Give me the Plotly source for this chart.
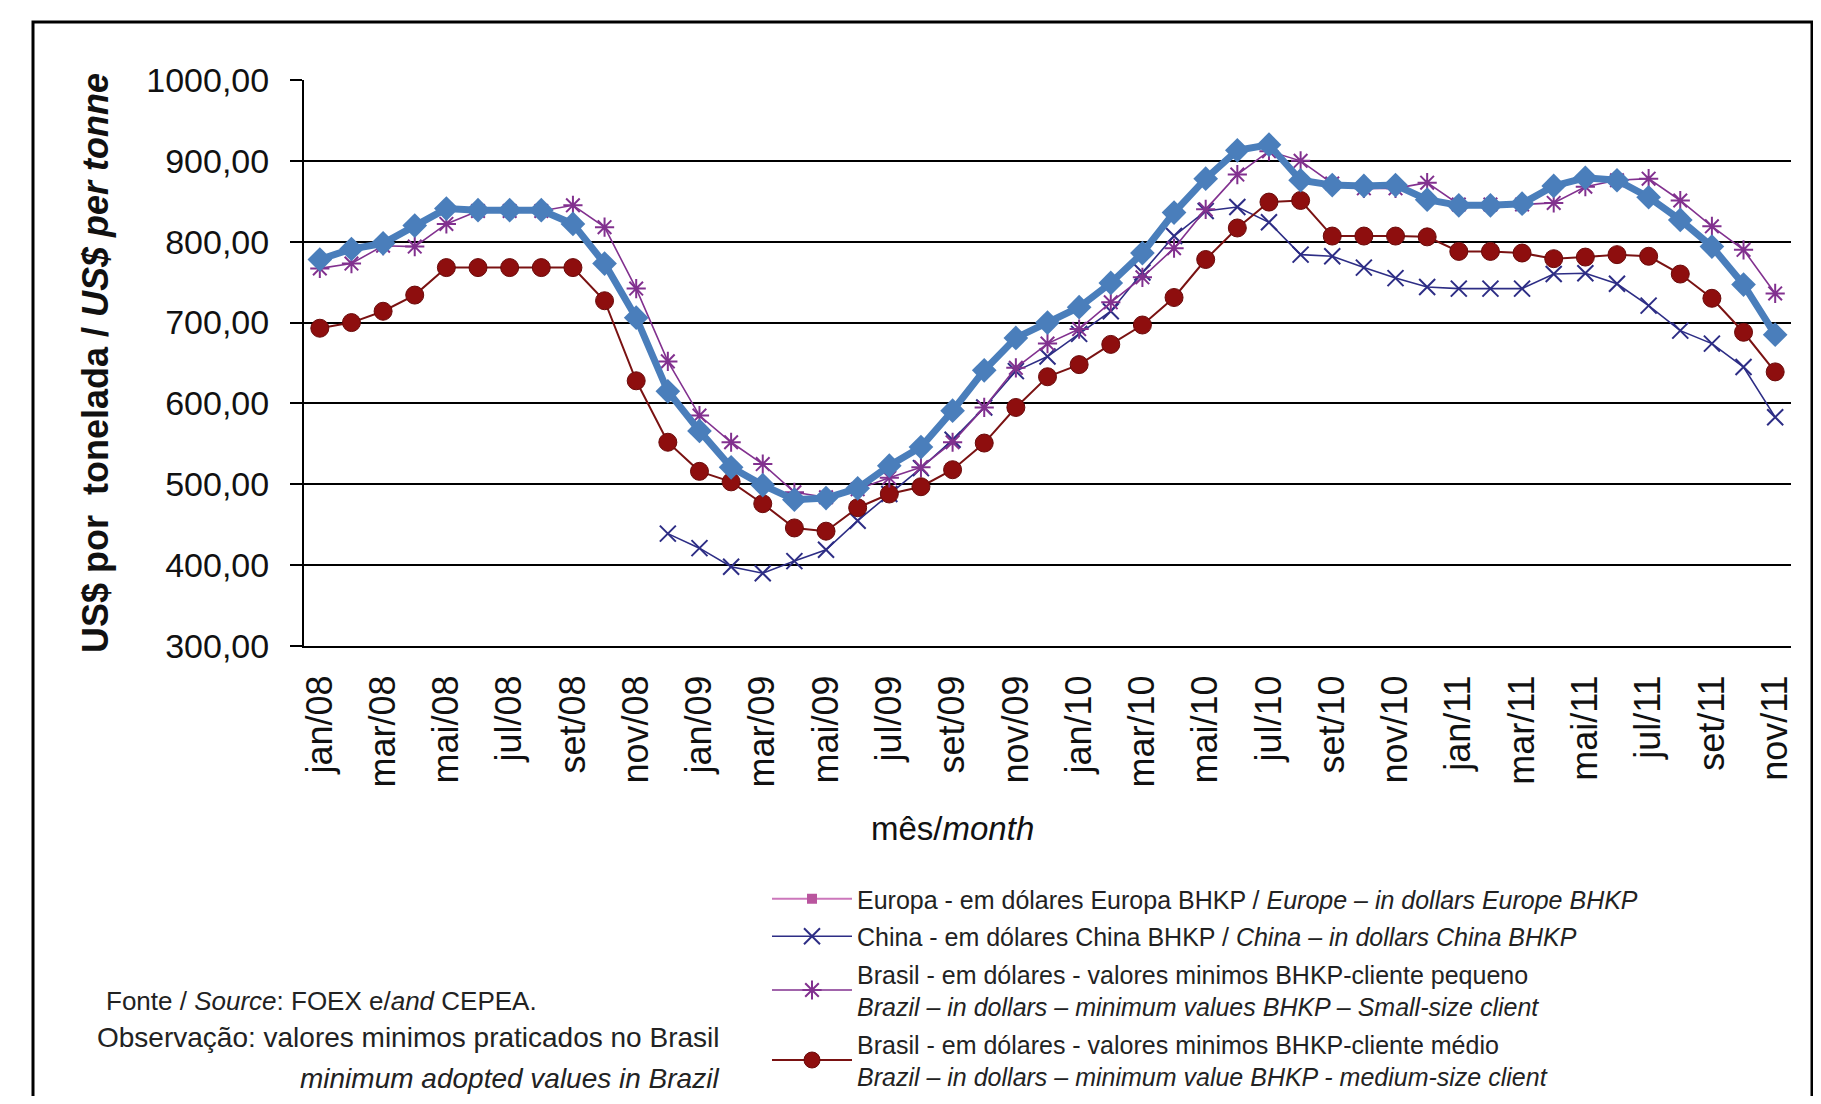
import plotly.graph_objects as go

months = ["jan/08","fev/08","mar/08","abr/08","mai/08","jun/08","jul/08","ago/08","set/08","out/08","nov/08","dez/08",
          "jan/09","fev/09","mar/09","abr/09","mai/09","jun/09","jul/09","ago/09","set/09","out/09","nov/09","dez/09",
          "jan/10","fev/10","mar/10","abr/10","mai/10","jun/10","jul/10","ago/10","set/10","out/10","nov/10","dez/10",
          "jan/11","fev/11","mar/11","abr/11","mai/11","jun/11","jul/11","ago/11","set/11","out/11","nov/11"]

europa = [778, 791, 798, 820, 841, 839, 839, 839, 822, 773, 706, 615,
          566, 521, 499, 481, 483, 495, 523, 546, 591, 641, 681, 700,
          719, 749, 786, 836, 878, 913, 920, 876, 870, 869, 870, 852,
          845, 845, 847, 869, 879, 876, 855, 827, 794, 747, 685]

china = [None, None, None, None, None, None, None, None, None, None, None, 439,
         421, 398, 390, 405, 419, 455, 488, 520, 555, 595, 640, 658,
         686, 714, 762, 807, 838, 843, 824, 784, 782, 768, 755, 744,
         742, 742, 742, 760, 761, 748, 721, 690, 674, 645, 583]

brasil_pequeno = [767, 773, 795, 794, 822, 838, 838, 838, 845, 818, 742, 652,
                  585, 552, 525, 490, 484, 494, 508, 521, 552, 595, 644, 674,
                  692, 725, 756, 792, 840, 883, 912, 900, 872, 866, 866, 873,
                  846, 846, 846, 848, 868, 876, 878, 851, 819, 790, 736]

brasil_medio = [693, 700, 714, 734, 768, 768, 768, 768, 768, 727, 628, 552,
                516, 503, 476, 446, 442, 471, 488, 497, 518, 551, 595, 633,
                648, 673, 697, 731, 778, 817, 849, 851, 807, 807, 807, 806,
                788, 788, 786, 779, 781, 784, 782, 760, 730, 688, 639]

names = [
    "Europa - em dólares Europa BHKP / <i>Europe – in dollars Europe BHKP</i>",
    "China - em dólares China BHKP / <i>China – in dollars China BHKP</i>",
    "Brasil - em dólares - valores minimos BHKP-cliente pequeno<br><i>Brazil – in dollars – minimum values BHKP – Small-size client</i>",
    "Brasil - em dólares - valores minimos BHKP-cliente médio<br><i>Brazil – in dollars – minimum value BHKP - medium-size client</i>",
]

x = list(range(len(months)))
label_idx = x[::2]
label_txt = months[::2]
boundaries = [i - 0.5 for i in label_idx]

# page offset of the plot div (body margin) -> work in page pixels
OFF = 8
W, H = 1821 - 2 * OFF, 1104 - 2 * OFF
L, T = 304 - OFF, 80 - OFF
PLOT_R, PLOT_B = 1791 - OFF, 646 - OFF
R, B = W - PLOT_R, H - PLOT_B
pw, ph = PLOT_R - L, PLOT_B - T
def px(xp):
    return (xp - OFF - L) / pw
def py(yp):
    return (PLOT_B - (yp - OFF)) / ph

FONT = "Liberation Sans, Arial, sans-serif"

fig = go.Figure()

fig.add_trace(go.Scatter(
    x=x, y=china, mode="lines+markers", name=names[1], legendrank=2,
    legendgroup="g2",
    line=dict(color="#2D2D85", width=1.6),
    marker=dict(symbol="x-thin-open", size=16, color="#2D2D85",
                line=dict(color="#2D2D85", width=2)),
))
fig.add_trace(go.Scatter(
    x=x, y=brasil_medio, mode="lines+markers", name=names[3], legendrank=4,
    legendgroup="g4",
    line=dict(color="#7A1212", width=2),
    marker=dict(symbol="circle", size=18, color="#8E0E0E",
                line=dict(color="#6A0A0A", width=1)),
))
fig.add_trace(go.Scatter(
    x=x, y=brasil_pequeno, mode="lines+markers", name=names[2], legendrank=3,
    legendgroup="g3",
    line=dict(color="#82318F", width=1.6),
    marker=dict(symbol="asterisk-open", size=16, color="#82318F",
                line=dict(color="#82318F", width=2)),
))
fig.add_trace(go.Scatter(
    x=x, y=europa, mode="lines+markers", name=names[0], showlegend=False,
    legendgroup="g1",
    line=dict(color="#4A7EBB", width=7),
    marker=dict(symbol="diamond", size=19, color="#4A7EBB"),
))
# legend entry for Europa as drawn in the original legend
fig.add_trace(go.Scatter(
    x=[None], y=[None], mode="lines+markers", name=names[0], legendrank=1,
    legendgroup="g1",
    line=dict(color="#CC77BB", width=2),
    marker=dict(symbol="square", size=10, color="#B9559E"),
))

fig.update_layout(
    width=W, height=H,
    margin=dict(l=L, r=R, t=T, b=B, autoexpand=False),
    paper_bgcolor="white", plot_bgcolor="white",
    separators=",.",
    font=dict(family=FONT, color="#111111"),
    showlegend=True,
    legend=dict(
        x=px(767), y=py(876), xanchor="left", yanchor="top",
        font=dict(family=FONT, size=25, color="#222222"),
        bgcolor="rgba(0,0,0,0)", tracegroupgap=2,
        itemwidth=80,
    ),
    xaxis=dict(
        range=[-0.5, len(months) - 0.5],
        tickmode="array", tickvals=label_idx, ticktext=label_txt,
        tickangle=-90, ticks="outside", ticklen=13, tickcolor="rgba(0,0,0,0)",
        showgrid=False, zeroline=False,
        showline=True, linecolor="black", linewidth=2,
        tickfont=dict(family=FONT, size=36, color="#111111"),
    ),
    xaxis2=dict(
        overlaying="x", matches="x", side="bottom",
        tickmode="array", tickvals=boundaries, ticktext=[""] * len(boundaries),
        ticks="outside", ticklen=12, tickwidth=2, tickcolor="black",
        showgrid=False, zeroline=False, showline=False, showticklabels=False,
    ),
    yaxis=dict(
        range=[300, 1000], dtick=100, tickformat=".2f",
        showgrid=True, gridcolor="black", gridwidth=2,
        ticks="outside", ticklen=12, tickwidth=2, tickcolor="black",
        showline=True, linecolor="black", linewidth=2, zeroline=False,
        ticklabelstandoff=14,
        tickfont=dict(family=FONT, size=34, color="#111111"),
        title=dict(text="<b>US$ por  tonelada / <i>US$ per tonne</i></b>",
                   font=dict(family=FONT, size=36, color="#111111"),
                   standoff=27),
    ),
    shapes=[dict(type="rect", xref="paper", yref="paper",
                 x0=px(33), x1=px(1812), y0=py(1140), y1=py(22),
                 line=dict(color="black", width=3), fillcolor="rgba(0,0,0,0)",
                 layer="below")],
    annotations=[
        dict(text="mês/<i>month</i>", xref="paper", yref="paper",
             x=px(952), y=py(828), xanchor="center", yanchor="middle",
             showarrow=False, font=dict(family=FONT, size=33, color="#111111")),
        dict(text="Fonte / <i>Source</i>: FOEX e/<i>and</i> CEPEA.", xref="paper", yref="paper",
             x=px(104), y=py(1001), xanchor="left", yanchor="middle",
             showarrow=False, font=dict(family=FONT, size=26, color="#222222")),
        dict(text="Observação: valores minimos praticados no Brasil", xref="paper", yref="paper",
             x=px(721), y=py(1037), xanchor="right", yanchor="middle",
             showarrow=False, font=dict(family=FONT, size=28, color="#222222")),
        dict(text="<i>minimum adopted values in Brazil</i>", xref="paper", yref="paper",
             x=px(721), y=py(1078), xanchor="right", yanchor="middle",
             showarrow=False, font=dict(family=FONT, size=28, color="#222222")),
    ],
)

fig.write_html("out.html")
